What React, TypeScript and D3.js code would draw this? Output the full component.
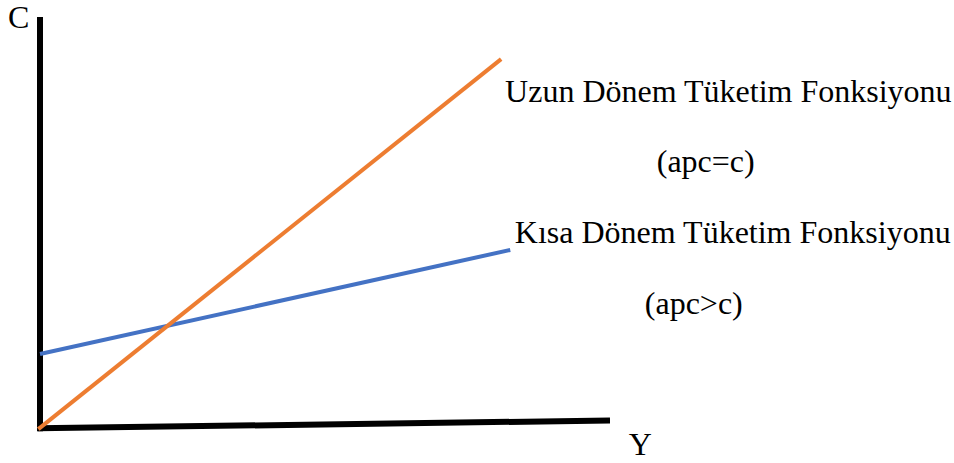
import * as d3 from "d3";

const WIDTH = 954;
const HEIGHT = 463;

// economic quantities in chart units (Y = income, C = consumption)
const axisYPoints: [number, number][] = [[0, -0.3], [0, 100]];
const axisXPoints: [number, number][] = [[-0.4, 0.4], [100, 2.3]];
const longRun: [number, number][] = [[-0.3, 0.2], [80.9, 89.8]];
const shortRun: [number, number][] = [[0, 18.4], [82.5, 43.6]];

const labels = [
  { text: "C", x: -5.6, y: 97.4, anchor: "start" },
  { text: "Y", x: 103.3, y: -6.1, anchor: "start" },
  { text: "Uzun Dönem Tüketim Fonksiyonu", x: 81.6, y: 79.4, anchor: "start" },
  { text: "(apc=c)", x: 108.2, y: 62.5, anchor: "start" },
  { text: "Kısa Dönem Tüketim Fonksiyonu", x: 83.3, y: 45.3, anchor: "start" },
  { text: "(apc>c)", x: 106.1, y: 28.1, anchor: "start" },
];

export default function App() {
  const x = d3.scaleLinear().domain([0, 100]).range([40, 610]);
  const y = d3.scaleLinear().domain([0, 100]).range([430, 17]);
  const line = d3
    .line<[number, number]>()
    .x((d) => x(d[0]))
    .y((d) => y(d[1]));

  return (
    <svg
      width={WIDTH}
      height={HEIGHT}
      viewBox={`0 0 ${WIDTH} ${HEIGHT}`}
      style={{ position: "absolute", left: 0, top: 0, background: "#fff" }}
    >
      {/* axes */}
      <path d={line(axisYPoints) || ""} stroke="#000" strokeWidth={6} fill="none" />
      <path d={line(axisXPoints) || ""} stroke="#000" strokeWidth={6} fill="none" />

      {/* consumption functions */}
      <path d={line(shortRun) || ""} stroke="#4472C4" strokeWidth={4} fill="none" />
      <path d={line(longRun) || ""} stroke="#ED7D31" strokeWidth={4} fill="none" />

      {labels.map((l) => (
        <text
          key={l.text}
          x={x(l.x)}
          y={y(l.y)}
          textAnchor={l.anchor}
          fontFamily="'Liberation Serif', 'Times New Roman', serif"
          fontSize={32}
          fill="#000"
        >
          {l.text}
        </text>
      ))}
    </svg>
  );
}
